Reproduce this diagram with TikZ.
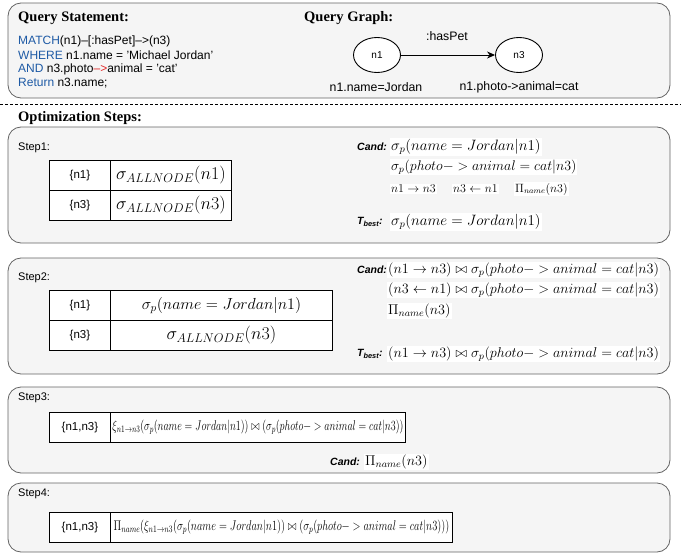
\RequirePackage{fix-cm}
\documentclass[tikz,border=0pt]{standalone}
\usepackage{graphicx}
\usepackage{fontspec}
\setsansfont{Liberation Sans}
\newfontfamily\tnr{Liberation Serif}
\usetikzlibrary{shapes.geometric,arrows.meta}
\definecolor{kw}{RGB}{30,90,165}
\definecolor{rd}{RGB}{225,40,40}
\definecolor{panelfill}{RGB}{245,245,245}
\definecolor{panelline}{RGB}{100,100,100}
\begin{document}
\begin{tikzpicture}[x=1pt,y=-1pt,
  panel/.style={draw=panelline, fill=panelfill, rounded corners=13pt, line width=0.8pt},
  head/.style={anchor=west, inner sep=0pt, font=\tnr\bfseries\fontsize{14.5}{16}\selectfont},
  code/.style={anchor=west, inner sep=0pt, font=\sffamily\fontsize{12}{14}\selectfont},
  steplbl/.style={anchor=west, inner sep=0pt, font=\sffamily\fontsize{11}{13}\selectfont},
  candlbl/.style={anchor=west, inner sep=0pt, font=\sffamily\bfseries\itshape\fontsize{10.5}{12}\selectfont},
  mbig/.style={anchor=west, inner sep=1pt, fill=white, font=\fontsize{15}{18}\selectfont},
  mline2/.style={anchor=west, inner sep=1pt, fill=white, font=\fontsize{14}{17}\selectfont},
  mmid/.style={anchor=west, inner sep=1pt, fill=white, font=\fontsize{14.2}{17}\selectfont},
  msmall/.style={anchor=west, inner sep=1pt, fill=white, font=\fontsize{12}{14}\selectfont},
  cell/.style={draw=black, fill=white, line width=0.9pt, anchor=north west, inner sep=0pt, minimum height=30pt},
  cellkey/.style={cell, minimum width=61pt, font=\sffamily\fontsize{11.5}{13}\selectfont},
  gnode/.style={draw=black, fill=white, ellipse, line width=0.9pt, minimum width=47pt, minimum height=35pt, inner sep=0pt, font=\sffamily\fontsize{10}{12}\selectfont},
  glbl/.style={inner sep=0pt, font=\sffamily\fontsize{12.3}{14}\selectfont}
]
\useasboundingbox (0,0) rectangle (681,554);

% ---------- top panel ----------
\draw[panel] (8,3) rectangle (670,98);
\node[head] (qs) at (18,18) {Query Statement:};
\node[code] (c1) at (18,41) {\textcolor{kw}{MATCH}(n1)–[:hasPet]–>(n3)};
\node[code] (c2) at (18,55) {\textcolor{kw}{WHERE} n1.name = 'Michael Jordan'};
\node[code] (c3) at (18,69) {\textcolor{kw}{AND} n3.photo\textcolor{rd}{–>}animal = 'cat'};
\node[code] (c4) at (18,83) {\textcolor{kw}{Return} n3.name;};

\node[head] (qg) at (304,18) {Query Graph:};
\node[gnode] (n1) at (377,55) {n1};
\node[gnode] (n3) at (519,55) {n3};
\draw[line width=0.9pt, -{Stealth[length=8pt,width=7pt]}] (n1) -- (n3);
\node[glbl] (hp) at (447,36) {:hasPet};
\node[glbl] (l1) at (376,87) {n1.name=Jordan};
\node[glbl] (l3) at (519,87) {n1.photo->animal=cat};

% ---------- separator ----------
\coordinate (dl) at (0,104);
\coordinate (dr) at (681,104);
\draw[line width=0.8pt, dash pattern=on 3pt off 2pt] (dl) -- (dr);
\node[head] (os) at (18,118) {Optimization Steps:};

% ---------- step 1 ----------
\draw[panel] (8,127) rectangle (670,243);
\node[steplbl] (s1) at (18,148) {Step1:};
\node[cellkey] (t1a) at (49,160) {\{n1\}};
\node[cell, minimum width=121pt, font=\fontsize{18}{21}\selectfont] (t1b) at (110,160) {$\sigma_{ALLNODE}(n1)$};
\node[cellkey] (t1c) at (49,190) {\{n3\}};
\node[cell, minimum width=121pt, font=\fontsize{18}{21}\selectfont] (t1d) at (110,190) {$\sigma_{ALLNODE}(n3)$};

\node[candlbl] (k1) at (357,147) {Cand:};
\node[mbig] (k1a) at (390,147) {$\sigma_p(name = Jordan|n1)$};
\node[mline2] (k1b) at (390,167) {$\sigma_p(photo- > animal = cat|n3)$};
\node[msmall] (k1c) at (390,189) {$n1\rightarrow n3$};
\node[msmall] (k1d) at (452,189) {$n3\leftarrow n1$};
\node[msmall] (k1e) at (514,189) {$\Pi_{name}(n3)$};
\node[candlbl] (b1t) at (357,222) {T\textsubscript{best}:};
\node[mbig] (b1a) at (390,222) {$\sigma_p(name = Jordan|n1)$};

% ---------- step 2 ----------
\draw[panel] (8,258) rectangle (670,374);
\node[steplbl] (s2) at (18,278) {Step2:};
\node[cellkey] (t2a) at (49,290) {\{n1\}};
\node[cell, minimum width=222pt, font=\fontsize{16}{19}\selectfont] (t2b) at (110,290) {$\sigma_p(name = Jordan|n1)$};
\node[cellkey] (t2c) at (49,320) {\{n3\}};
\node[cell, minimum width=222pt, font=\fontsize{18}{21}\selectfont] (t2d) at (110,320) {$\sigma_{ALLNODE}(n3)$};

\node[candlbl] (k2) at (357,270) {Cand:};
\node[mmid] (k2a) at (387,270) {$(n1\rightarrow n3)\bowtie\sigma_p(photo- > animal = cat|n3)$};
\node[mmid] (k2b) at (387,290) {$(n3\leftarrow n1)\bowtie\sigma_p(photo- > animal = cat|n3)$};
\node[mmid] (k2c) at (387,311) {$\Pi_{name}(n3)$};
\node[candlbl] (b2t) at (357,354) {T\textsubscript{best}:};
\node[mmid] (b2a) at (387,354) {$(n1\rightarrow n3)\bowtie\sigma_p(photo- > animal = cat|n3)$};

% ---------- step 3 ----------
\draw[panel] (8,387) rectangle (670,473);
\node[steplbl] (s3) at (18,398) {Step3:};
\node[cellkey] (t3a) at (49,412) {\{n1,n3\}};
\node[cell, minimum width=295pt, font=\fontsize{14}{16}\selectfont] (t3b) at (110,412) {\scalebox{0.72}[1]{$\xi_{n1\rightarrow n3}(\sigma_p(name = Jordan|n1))\bowtie(\sigma_p(photo- > animal = cat|n3))$}};
\node[candlbl] (k3) at (330,462) {Cand:};
\node[mmid] (k3a) at (364,462) {$\Pi_{name}(n3)$};

% ---------- step 4 ----------
\draw[panel] (8,483) rectangle (670,552);
\node[steplbl] (s4) at (18,494) {Step4:};
\node[cellkey] (t4a) at (49,512) {\{n1,n3\}};
\node[cell, minimum width=342pt, font=\fontsize{14}{16}\selectfont] (t4b) at (110,512) {\scalebox{0.745}[1]{$\Pi_{name}(\xi_{n1\rightarrow n3}(\sigma_p(name = Jordan|n1))\bowtie(\sigma_p(photo- > animal = cat|n3)))$}};
\end{tikzpicture}
\end{document}
